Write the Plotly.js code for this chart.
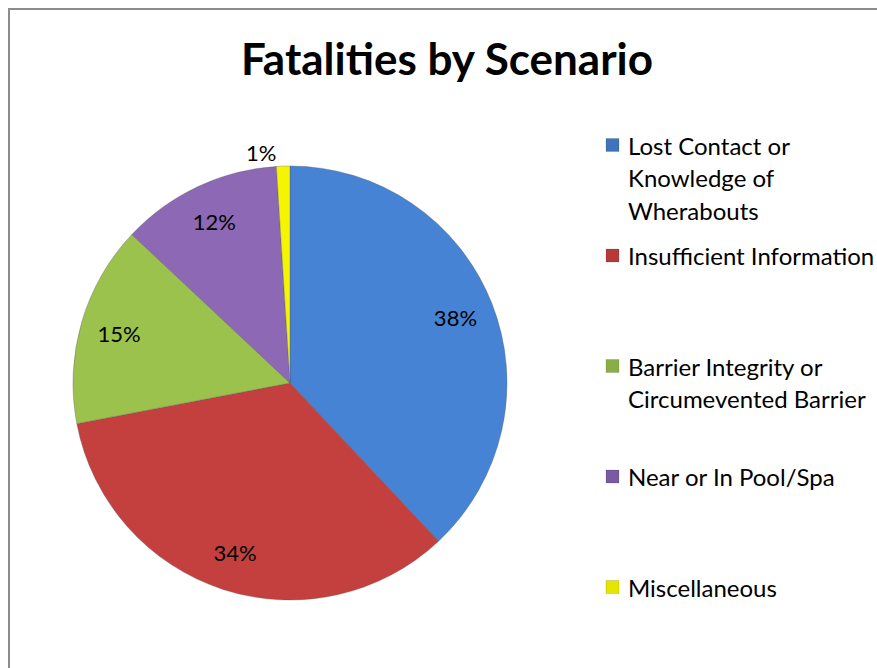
<!DOCTYPE html>
<html>
<head>
<meta charset="utf-8">
<script src="https://cdn.plot.ly/plotly-3.0.1.min.js"></script>
<style>html,body{margin:0;padding:0;background:#fff;}#chart{width:877px;height:668px;}</style>
</head>
<body>
<div id="chart"></div>
<script>
// Data
const labels = [
  "Lost Contact or Knowledge of Wherabouts",
  "Insufficient Information",
  "Barrier Integrity or Circumevented Barrier",
  "Near or In Pool/Spa",
  "Miscellaneous"
];
const legendLines = [
  ["Lost Contact or", "Knowledge of", "Wherabouts"],
  ["Insufficient Information"],
  ["Barrier Integrity or", "Circumevented Barrier"],
  ["Near or In Pool/Spa"],
  ["Miscellaneous"]
];
const values = [38, 34, 15, 12, 1];
const colors = ["#4783D5", "#C4403E", "#9BC24C", "#8C68B5", "#F5F500"];
const legendSwatch = ["#3F74BC", "#B73A38", "#8AAE45", "#7A5BA3", "#E5E500"];

const FONT = "Lato, 'Open Sans', sans-serif";
const W = 877, H = 668;
const domain = {x: [(290 - 217) / W, (290 + 217) / W], y: [(668 - 383 - 217) / H, (668 - 383 + 217) / H]};

// Main pie (slices + outside label for the tiny slice)
const trace = {
  type: "pie",
  labels: labels,
  values: values,
  sort: false,
  direction: "clockwise",
  rotation: 0,
  marker: {colors: colors, line: {color: "rgba(90,90,90,0.35)", width: 1}},
  texttemplate: "%{percent:.0%}",
  textposition: ["none", "none", "none", "none", "outside"],
  textfont: {family: FONT, size: 22, color: "#000"},
  outsidetextfont: {family: FONT, size: 22, color: "#000"},
  domain: domain,
  showlegend: false
};

// Transparent ring overlay: places the percentage labels near the rim like Excel
const labelRing = {
  type: "pie",
  labels: labels,
  values: values,
  sort: false,
  direction: "clockwise",
  rotation: 0,
  hole: 0.64,
  marker: {colors: values.map(() => "rgba(0,0,0,0)"), line: {width: 0}},
  texttemplate: "%{percent:.0%}",
  textposition: ["inside", "inside", "inside", "inside", "none"],
  insidetextorientation: "horizontal",
  insidetextfont: {family: FONT, size: 22, color: "#000"},
  domain: domain,
  showlegend: false
};

const annotations = [];
const shapes = [];
// Outer chart border (only top/left visible in the cropped view)
shapes.push({type: "rect", xref: "paper", yref: "paper",
  x0: 9 / W, x1: 1.05, y0: -0.05, y1: 1 - 9 / H,
  line: {color: "#8C8C8C", width: 2}, fillcolor: "rgba(0,0,0,0)"});

// Manual legend (Excel-style evenly distributed entries)
const legTop = 145, legStep = 110.5, lineStep = 32.5;
legendLines.forEach((lines, i) => {
  const yc = legTop + i * legStep;
  shapes.push({type: "rect", xref: "paper", yref: "paper",
    x0: 606 / W, x1: 619 / W, y0: 1 - (yc + 6.5) / H, y1: 1 - (yc - 6.5) / H,
    fillcolor: legendSwatch[i], line: {color: "rgba(0,0,0,0.25)", width: 0.5}});
  lines.forEach((t, j) => {
    annotations.push({xref: "paper", yref: "paper", x: 626 / W, y: 1 - (yc + j * lineStep) / H,
      xanchor: "left", yanchor: "middle", text: t, showarrow: false,
      font: {family: FONT, size: 24, color: "#000"}});
  });
});

const layout = {
  width: W, height: H,
  margin: {l: 0, r: 0, t: 0, b: 0},
  paper_bgcolor: "#fff",
  title: {text: "<b>Fatalities by Scenario</b>", x: 447 / W, xanchor: "center", xref: "paper",
    y: 1 - 60 / H, yanchor: "middle", yref: "paper",
    font: {family: FONT, size: 44, color: "#000"}},
  showlegend: false,
  annotations: annotations,
  shapes: shapes
};

Plotly.newPlot("chart", [trace, labelRing], layout, {displayModeBar: false, staticPlot: true});
</script>
</body>
</html>
